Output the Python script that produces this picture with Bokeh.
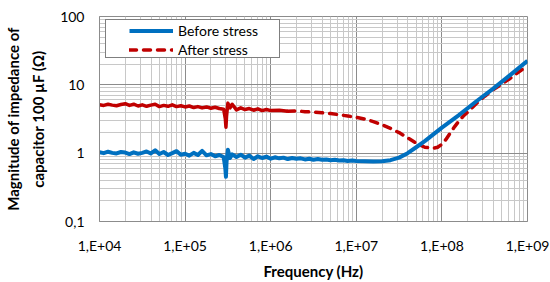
from bokeh.plotting import figure
from bokeh.models import (FixedTicker, CustomJSTickFormatter, Legend, LegendItem,
                          ColumnDataSource)
from bokeh.embed import file_html
from bokeh.resources import INLINE

# ---------------- data ----------------
freq_before = [
    1.00e4, 1.12e4, 1.26e4, 1.41e4, 1.58e4, 1.78e4, 2.00e4, 2.24e4, 2.51e4, 2.82e4,
    3.16e4, 3.55e4, 3.98e4, 4.47e4, 5.01e4, 5.62e4, 6.31e4, 7.08e4, 7.94e4, 8.91e4,
    1.00e5, 1.12e5, 1.26e5, 1.41e5, 1.58e5, 1.78e5, 2.00e5, 2.24e5, 2.51e5, 2.82e5,
    2.95e5, 3.00e5, 3.05e5, 3.16e5, 3.35e5, 3.55e5, 3.98e5, 4.47e5, 5.01e5, 5.62e5,
    6.31e5, 7.08e5, 7.94e5, 8.91e5, 1.00e6, 1.12e6, 1.26e6, 1.41e6, 1.58e6, 1.78e6,
    2.00e6, 2.24e6, 2.51e6, 2.82e6, 3.16e6, 3.55e6, 3.98e6, 4.47e6, 5.01e6, 5.62e6,
    6.31e6, 7.08e6, 7.94e6, 8.91e6, 1.00e7, 1.26e7, 1.58e7, 2.00e7, 2.51e7, 3.16e7,
    3.98e7, 5.01e7, 6.31e7, 7.94e7, 1.00e8, 1.58e8, 2.51e8, 3.98e8, 6.31e8, 1.00e9]
imp_before = [
    1.03, 1.00, 1.05, 1.01, 0.99, 1.04, 1.02, 0.97, 1.03, 0.98,
    1.01, 1.06, 0.99, 1.10, 0.97, 1.04, 0.94, 1.00, 1.07, 0.95,
    0.98, 0.92, 1.01, 0.94, 1.08, 0.93, 0.97, 0.90, 0.94, 0.88,
    0.60, 0.45, 0.75, 1.12, 0.85, 0.96, 0.88, 0.95, 0.86, 0.92,
    0.82, 0.90, 0.85, 0.89, 0.83, 0.87, 0.84, 0.86, 0.82, 0.85,
    0.83, 0.84, 0.81, 0.83, 0.80, 0.82, 0.80, 0.81, 0.79, 0.80,
    0.78, 0.79, 0.77, 0.78, 0.77, 0.76, 0.755, 0.76, 0.79, 0.86,
    1.00, 1.22, 1.50, 1.88, 2.36, 3.6, 5.7, 8.8, 14.0, 22.5]

freq_after = [
    1.00e4, 1.12e4, 1.26e4, 1.41e4, 1.58e4, 1.78e4, 2.00e4, 2.24e4, 2.51e4, 2.82e4,
    3.16e4, 3.55e4, 3.98e4, 4.47e4, 5.01e4, 5.62e4, 6.31e4, 7.08e4, 7.94e4, 8.91e4,
    1.00e5, 1.12e5, 1.26e5, 1.41e5, 1.58e5, 1.78e5, 2.00e5, 2.24e5, 2.51e5, 2.82e5,
    2.95e5, 3.00e5, 3.05e5, 3.16e5, 3.35e5, 3.55e5, 3.98e5, 4.47e5, 5.01e5, 5.62e5,
    6.31e5, 7.08e5, 7.94e5, 8.91e5, 1.00e6, 1.26e6, 1.58e6, 2.00e6, 2.51e6, 3.16e6,
    3.98e6, 5.01e6, 6.31e6, 7.94e6, 1.00e7, 1.26e7, 1.58e7, 2.00e7, 2.51e7, 3.16e7,
    3.98e7, 5.01e7, 6.31e7, 7.94e7, 8.91e7, 1.00e8, 1.12e8, 1.26e8, 1.41e8, 1.58e8,
    1.78e8, 2.00e8, 2.51e8, 3.16e8, 3.98e8, 5.01e8, 6.31e8, 7.94e8, 1.00e9]
imp_after = [
    5.10, 5.00, 5.20, 5.05, 4.95, 5.15, 5.30, 5.00, 5.20, 4.90,
    5.10, 4.85, 5.05, 5.20, 4.80, 5.00, 4.85, 5.10, 4.80, 4.95,
    4.75, 4.90, 4.65, 4.80, 4.60, 4.75, 4.55, 4.70, 4.50, 4.40,
    3.20, 2.40, 3.50, 5.40, 4.60, 5.20, 4.30, 4.60, 4.35, 4.50,
    4.25, 4.45, 4.20, 4.35, 4.20, 4.25, 4.10, 4.15, 4.05, 4.00,
    3.90, 3.80, 3.65, 3.50, 3.35, 3.15, 2.90, 2.60, 2.30, 2.00,
    1.68, 1.40, 1.22, 1.18, 1.22, 1.35, 1.60, 2.00, 2.45, 2.95,
    3.50, 4.00, 5.30, 6.80, 8.50, 10.3, 12.5, 15.5, 19.0]

series_names = ["Before stress", "After stress"]
x_ticks = [1e4, 1e5, 1e6, 1e7, 1e8, 1e9]
y_ticks = [0.1, 1, 10, 100]
x_title = "Frequency (Hz)"
y_title = "Magnitude of impedance of\ncapacitor 100 \u00b5F (\u03a9)"

# dense noisy part of "after" drawn solid, the rest dashed
split_freq = 1.58e6

# ---------------- styling ----------------
FONT = "Lato"
BLUE = "#0070C0"
RED = "#C00000"
MAJOR = "#8c8c8c"
MINOR = "#c8c8c8"

p = figure(width=550, height=282, x_axis_type="log", y_axis_type="log",
           x_range=(1e4, 1e9), y_range=(0.1, 100),
           output_backend="svg", toolbar_location=None,
           min_border_left=93, min_border_right=23,
           min_border_top=16, min_border_bottom=58)
p.background_fill_color = "white"
p.border_fill_color = "white"
p.outline_line_color = MAJOR

x_minor = [m * 10 ** e for e in range(4, 9) for m in range(2, 10)]
y_minor = [m * 10.0 ** e for e in range(-1, 2) for m in range(2, 10)]
p.xaxis.ticker = FixedTicker(ticks=x_ticks, minor_ticks=x_minor)
p.yaxis.ticker = FixedTicker(ticks=y_ticks, minor_ticks=y_minor)
p.xaxis.formatter = CustomJSTickFormatter(
    code="const e = Math.round(Math.log10(tick)); return '1,E+' + (e < 10 ? '0' + e : '' + e);")
p.yaxis.formatter = CustomJSTickFormatter(code="return String(tick).replace('.', ',');")

for ax in (p.xaxis, p.yaxis):
    ax.axis_line_color = MAJOR
    ax.major_tick_line_color = None
    ax.minor_tick_line_color = None
    ax.major_tick_out = 0
    ax.minor_tick_out = 0
    ax.major_tick_in = 0
    ax.minor_tick_in = 0
    ax.major_label_text_font = FONT
    ax.major_label_text_font_size = "14px"
    ax.major_label_text_color = "#000000"
    ax.axis_label_text_font = FONT
    ax.axis_label_text_font_size = "15px"
    ax.axis_label_text_font_style = "bold"
    ax.axis_label_text_color = "#000000"

p.xaxis.axis_label = x_title
p.yaxis.axis_label = y_title
p.yaxis.axis_label_text_line_height = 1.4
p.xaxis.major_label_standoff = 15
p.xaxis.axis_label_standoff = 5
p.yaxis.major_label_standoff = 15
p.yaxis.axis_label_standoff = 10

for g in (p.xgrid, p.ygrid):
    g.grid_line_color = MAJOR
    g.grid_line_width = 1
    g.minor_grid_line_color = MINOR
    g.minor_grid_line_width = 1

src_before = ColumnDataSource(dict(x=freq_before, y=imp_before))
sol_x = [f for f in freq_after if f <= split_freq]
sol_y = [v for f, v in zip(freq_after, imp_after) if f <= split_freq]
dash_x = [f for f in freq_after if f >= split_freq]
dash_y = [v for f, v in zip(freq_after, imp_after) if f >= split_freq]

r_after_solid = p.line(sol_x, sol_y, line_color=RED, line_width=3.5, line_join="round")
r_after = p.line(dash_x, dash_y, line_color=RED, line_width=3.5, line_dash="7 7",
                 line_cap="round", line_join="round")
r_before = p.line("x", "y", source=src_before, line_color=BLUE, line_width=4,
                  line_join="round")

# invisible renderer, used only to size the framed legend box
r_blank = p.line(x=[], y=[], line_alpha=0)

box_legend = Legend(items=[LegendItem(label=" ", renderers=[r_blank]),
                           LegendItem(label=" ", renderers=[r_blank])],
                    location=(6, 163), padding=0, spacing=1, margin=0,
                    glyph_width=1, glyph_height=18, label_height=18,
                    label_width=172, label_standoff=0,
                    label_text_font_size="14px",
                    border_line_color="#000000", border_line_width=1,
                    background_fill_color="white", background_fill_alpha=1.0)
p.add_layout(box_legend, "center")

legend = Legend(items=[LegendItem(label=series_names[0], renderers=[r_before]),
                       LegendItem(label=series_names[1], renderers=[r_after])],
                location=(30, 162), padding=0, spacing=0, margin=0,
                glyph_width=44, glyph_height=19, label_height=19,
                label_standoff=5, label_text_font=FONT, label_text_font_size="14px",
                label_text_color="#000000",
                border_line_color=None, background_fill_alpha=0.0)
p.add_layout(legend, "center")

open("out.html", "w").write(file_html(p, INLINE))
